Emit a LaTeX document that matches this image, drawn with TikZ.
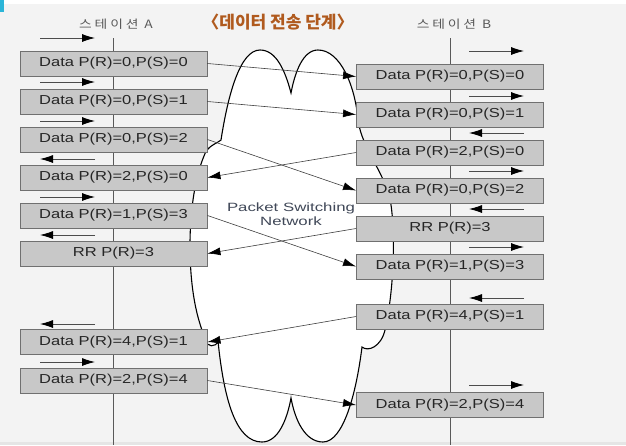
\documentclass[tikz,border=0pt]{standalone}
\usepackage{fontspec}
\setmainfont{Liberation Sans}
\newfontfamily\boxfont[FakeStretch=1.27]{Liberation Sans}
\newfontfamily\netfont[FakeStretch=1.4]{Liberation Sans}
\newfontfamily\kofont[FakeStretch=1.2,LetterSpace=25]{Noto Sans CJK KR}
\newfontfamily\titlefont{Noto Sans CJK KR}
\usepackage{tikz}
\usetikzlibrary{arrows.meta}
\usepackage{xcolor}
\definecolor{boxgray}{HTML}{C8C8C8}
\definecolor{edgegray}{HTML}{707070}
\definecolor{titlebrown}{HTML}{B05A1E}
\definecolor{bggray}{HTML}{F3F3F3}
\definecolor{netblue}{HTML}{404858}
\definecolor{marker}{HTML}{2BB5D8}

\begin{document}
\begin{tikzpicture}[x=1pt,y=-1pt,
  pkt/.style={draw=edgegray,fill=boxgray,line width=0.9pt,minimum width=187pt,minimum height=25pt,inner sep=0pt,font=\boxfont\fontsize{13}{15}\selectfont,text=black!85},
  msg/.style={-{Latex[length=13pt,width=8pt,black]},line width=0.6pt,draw=black!75},
  dir/.style={-{Latex[length=13pt,width=8pt,black]},line width=0.8pt,draw=black!70},
  life/.style={draw=black!65,line width=0.8pt}]
 \pgfmathsetmacro{\xa}{113.5}
 \pgfmathsetmacro{\xb}{450}
  \useasboundingbox (0,0) rectangle (626,445);
  \fill[bggray] (0,0) rectangle (626,445);
  \fill[white] (0,0) rectangle (626,4);
  \fill[marker] (0,0) rectangle (4,12);
  \fill[black!10] (0,442) rectangle (626,445);

  % network cloud
  \draw[fill=white,line width=1.1pt] (291,93) .. controls (285,70) and (276,50) .. (260,50)
   .. controls (240,50) and (228,95) .. (221,140)
   .. controls (216,144) and (207,146) .. (204,156)
   .. controls (194,180) and (190,215) .. (190,245)
   .. controls (190,290) and (197,320) .. (206,340)
   .. controls (206,347) and (216,348) .. (218,341)
   .. controls (224,400) and (236,442) .. (262,442)
   .. controls (278,442) and (287,420) .. (291,398)
   .. controls (295,420) and (305,442) .. (323,442)
   .. controls (343,442) and (356,395) .. (362,347)
   .. controls (368,352) and (381,347) .. (385,330)
   .. controls (393,295) and (396,240) .. (391,205)
   .. controls (387,175) and (362,150) .. (358,120)
   .. controls (355,85) and (340,50) .. (318,50)
   .. controls (303,50) and (295,72) .. (291,93) -- cycle;
  \node[font=\netfont\fontsize{12}{13.5}\selectfont,text=netblue,align=center] (net) at (291,214) {Packet Switching\\Network};

  \node[font=\titlefont\bfseries\fontsize{17}{20}\selectfont,text=titlebrown] (title) at (278,22) {〈데이터 전송 단계〉};
  \node[font=\kofont\fontsize{11.5}{13}\selectfont,text=black!65] (staA) at (116,24) {스테이션 A};
  \node[font=\kofont\fontsize{11.5}{13}\selectfont,text=black!65] (staB) at (454,24) {스테이션 B};
  \draw[life] (\xa,38) -- (\xa,445);
  \draw[life] (\xb,38) -- (\xb,445);

  \foreach \n/\y/\txt in {1/63.5/{Data P(R)=0,P(S)=0},2/101.5/{Data P(R)=0,P(S)=1},3/139.5/{Data P(R)=0,P(S)=2},4/177.5/{Data P(R)=2,P(S)=0},5/215.5/{Data P(R)=1,P(S)=3},6/253.5/{RR P(R)=3},7/342/{Data P(R)=4,P(S)=1},8/380.5/{Data P(R)=2,P(S)=4}}{
    \node[pkt] (a\n) at (\xa,\y) {\txt};
  }
  \foreach \n/\y/\txt in {1/76.5/{Data P(R)=0,P(S)=0},2/114.5/{Data P(R)=0,P(S)=1},3/152.5/{Data P(R)=2,P(S)=0},4/190.5/{Data P(R)=0,P(S)=2},5/228.5/{RR P(R)=3},6/266.5/{Data P(R)=1,P(S)=3},7/316.5/{Data P(R)=4,P(S)=1},8/405/{Data P(R)=2,P(S)=4}}{
    \node[pkt] (b\n) at (\xb,\y) {\txt};
  }

  % direction marks
  \foreach \y/\s/\e in {38/40/95,82/40/95,121/40/95,159/95/40,197/40/95,235/95/40,324/95/40,362/40/95}
    \draw[dir] (\s,\y) -- (\e,\y);
  \foreach \y/\s/\e in {51/469/524,96/469/524,133/524/469,171/469/524,209/524/469,247/469/524,298/524/469,385/469/524}
    \draw[dir] (\s,\y) -- (\e,\y);

  \draw[msg] (a1.east) -- (b1.west);
  \draw[msg] (a2.east) -- (b2.west);
  \draw[msg] (a3.east) -- (b4.west);
  \draw[msg] (b3.west) -- (a4.east);
  \draw[msg] (a5.east) -- (b6.west);
  \draw[msg] (b5.west) -- (a6.east);
  \draw[msg] (b7.west) -- (a7.east);
  \draw[msg] (a8.east) -- (b8.west);
\end{tikzpicture}
\end{document}
